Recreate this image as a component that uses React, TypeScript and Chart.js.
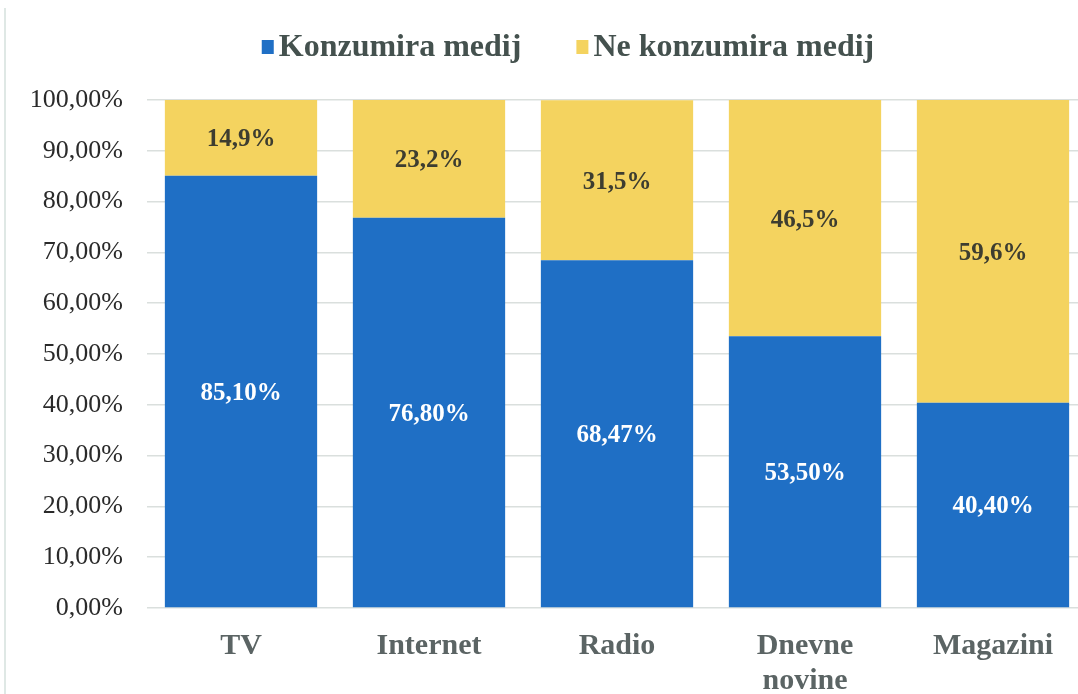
import React, { useEffect, useRef } from 'react';
import { Chart, registerables } from 'chart.js';

Chart.register(...registerables);

const categories: string[][] = [['TV'], ['Internet'], ['Radio'], ['Dnevne', 'novine'], ['Magazini']];
const seriesNames = ['Konzumira medij', 'Ne konzumira medij'];
const consumes = [85.1, 76.8, 68.47, 53.5, 40.4];
const notConsumes = [14.9, 23.2, 31.5, 46.5, 59.6];
const valueDecimals = [2, 1];

const FONT = "'Liberation Serif', 'Times New Roman', serif";
const BLUE = '#1F6FC5';
const YELLOW = '#F4D35F';

const fmt = (v: number, d: number) => v.toFixed(d).replace('.', ',') + '%';

const valueLabels = {
  id: 'valueLabels',
  afterDatasetsDraw(chart: any) {
    const ctx = chart.ctx;
    ctx.save();
    ctx.textAlign = 'center';
    ctx.textBaseline = 'middle';
    ctx.font = `bold 25px ${FONT}`;
    chart.data.datasets.forEach((ds: any, di: number) => {
      const meta = chart.getDatasetMeta(di);
      meta.data.forEach((bar: any, i: number) => {
        const { x, y, base } = bar.getProps(['x', 'y', 'base'], true);
        ctx.fillStyle = di === 0 ? '#ffffff' : '#3d3d30';
        ctx.fillText(fmt(ds.data[i], valueDecimals[di]), x, (y + base) / 2 + 2);
      });
    });
    ctx.restore();
  },
};

const customLegend = {
  id: 'customLegend',
  afterDraw(chart: any) {
    const ctx = chart.ctx;
    ctx.save();
    ctx.font = `bold 32px ${FONT}`;
    const box = 12;
    const gapBoxText = 5;
    const gapItems = 55;
    const items = chart.data.datasets.map((ds: any) => ({
      label: ds.label as string,
      color: ds.backgroundColor as string,
      w: ctx.measureText(ds.label).width as number,
    }));
    const total =
      items.reduce((s: number, it: any) => s + box + gapBoxText + it.w, 0) + gapItems * (items.length - 1);
    let x = 568 - total / 2;
    const cy = 47;
    ctx.textAlign = 'left';
    ctx.textBaseline = 'middle';
    items.forEach((it: any) => {
      ctx.fillStyle = it.color;
      ctx.fillRect(x, cy - 7, box, 14);
      x += box + gapBoxText;
      ctx.fillStyle = '#44514e';
      ctx.fillText(it.label, x, cy + 1);
      x += it.w + gapItems;
    });
    ctx.restore();
  },
};

export default function App() {
  const ref = useRef<HTMLCanvasElement | null>(null);

  useEffect(() => {
    if (!ref.current) return;
    const chart = new Chart(ref.current, {
      type: 'bar',
      data: {
        labels: categories,
        datasets: [
          {
            label: seriesNames[0],
            data: consumes,
            backgroundColor: BLUE,
            barPercentage: 0.81,
            categoryPercentage: 1,
          },
          {
            label: seriesNames[1],
            data: notConsumes,
            backgroundColor: YELLOW,
            barPercentage: 0.81,
            categoryPercentage: 1,
          },
        ],
      },
      options: {
        responsive: false,
        animation: false,
        layout: { padding: { top: 100, right: 3, left: 0, bottom: 0 } },
        plugins: {
          legend: { display: false },
          tooltip: { enabled: false },
        },
        scales: {
          x: {
            stacked: true,
            grid: { display: false },
            border: { display: false },
            ticks: {
              color: '#5b6464',
              font: { family: FONT, size: 30, weight: 'bold', lineHeight: 1.17 },
              padding: 13,
              maxRotation: 0,
              autoSkip: false,
            },
            afterFit: (s: any) => {
              s.height = 86;
            },
          },
          y: {
            stacked: true,
            min: 0,
            max: 100,
            ticks: {
              stepSize: 10,
              callback: (v: any) => fmt(Number(v), 2),
              color: '#2a2a2a',
              font: { family: FONT, size: 26 },
              padding: 24,
            },
            grid: { color: '#dadfdd', drawTicks: false, lineWidth: 1.5 },
            border: { display: false },
            afterFit: (s: any) => {
              s.width = 147;
            },
          },
        },
      } as any,
      plugins: [valueLabels, customLegend],
    });
    return () => chart.destroy();
  }, []);

  return (
    <div style={{ position: 'fixed', left: 0, top: 0, width: 1090, height: 694, overflow: 'hidden', background: '#ffffff' }}>
      <div style={{ position: 'absolute', left: 4, top: 8, width: 2, height: 686, background: '#dfe8e5' }} />
      <canvas ref={ref} width={1090} height={694} style={{ position: 'absolute', left: 0, top: 0 }} />
    </div>
  );
}
